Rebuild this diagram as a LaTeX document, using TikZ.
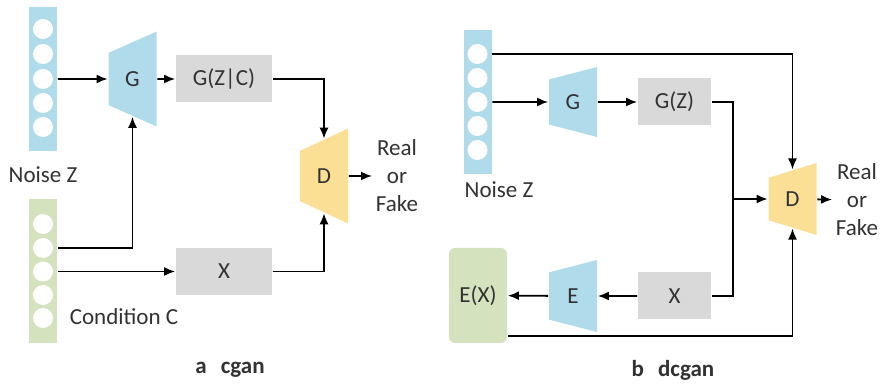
\documentclass[tikz,border=0pt]{standalone}
\usepackage{fontspec}
\setmainfont{Carlito}
\usetikzlibrary{shapes.geometric}
\usetikzlibrary{arrows.meta}
\usetikzlibrary{calc}
\definecolor{lblue}{RGB}{176,219,234}
\definecolor{lgreen}{RGB}{213,226,190}
\definecolor{lyellow}{RGB}{250,223,148}
\definecolor{lgray}{RGB}{217,217,217}
\definecolor{txt}{RGB}{50,50,50}

\begin{document}
\begin{tikzpicture}[x=0.5pt, y=-0.5pt,
  font=\fontsize{11.5}{14}\selectfont, text=txt,
  >={Latex[length=5.5pt,width=4.5pt]}, line width=0.9pt,
  col/.style={rectangle, inner sep=0pt, minimum width=14pt, minimum height=72pt},
  unit/.style={circle, fill=white, inner sep=0pt, minimum size=10pt},
  box/.style={rectangle, fill=lgray, inner sep=0pt, minimum height=23.5pt},
  trap/.style={trapezium, trapezium stretches=true, shape border rotate=90,
    inner sep=0pt, minimum height=24pt},
]
\useasboundingbox (0,0) rectangle (885,384);

%---------------------------------------
% a: cgan
%---------------------------------------
\node[col, fill=lblue] (zL) at (43,79) {};
\foreach \y [count=\i] in {29,54,79,103,127}
  \node[unit] (zL\i) at (43,\y) {};
\node (nzL) at (43,175) {Noise Z};

\node[col, fill=lgreen] (cL) at (43,271.5) {};
\foreach \y [count=\i] in {224,248,271.5,295,318}
  \node[unit] (cL\i) at (43,\y) {};
\node (ccL) at (124,317) {Condition C};

\node[trap, fill=lblue, trapezium left angle=67, trapezium right angle=67,
  minimum width=47.5pt] (GL) at (132.5,79) {G};
\node[box, minimum width=48pt] (GZC) at (224,79) {G(Z|C)};
\node[box, minimum width=48pt] (XL) at (224,271.5) {X};
\node[trap, fill=lyellow, trapezium left angle=65, trapezium right angle=65,
  minimum width=47.5pt] (DL) at (324,176) {D};
\node[align=center, inner sep=1.5pt] (rfL) at (397,176) {Real\\or\\Fake};

% connectors
\draw[->] (zL.east |- zL3) -- (GL);
\draw[->] (GL) -- (GZC);
\draw[->] (GZC.east) -| (DL);
\draw[->] (cL.east |- cL2) -| (GL);
\draw[->] (cL.east |- cL3) -- (XL);
\draw[->] (XL.east) -| (DL);
\draw[->] (DL) -- (rfL);

\node[font=\fontsize{11.5}{14}\selectfont\bfseries] (capA) at (230,370) {a\hspace{7pt}cgan};

%---------------------------------------
% b: dcgan
%---------------------------------------
\node[col, fill=lblue] (zR) at (477.5,102) {};
\foreach \y [count=\i] in {54,78,102,126,150}
  \node[unit] (zR\i) at (477.5,\y) {};
\node (nzR) at (499,190) {Noise Z};

\node[trap, fill=lblue, trapezium left angle=74, trapezium right angle=74,
  minimum width=35pt] (GR) at (573,102) {G};
\node[box, minimum width=36.5pt] (GZ) at (674.5,102) {G(Z)};
\node[box, minimum width=36.5pt] (XR) at (674.5,296) {X};
\node[trap, fill=lblue, trapezium left angle=71, trapezium right angle=71,
  minimum width=36pt] (ER) at (573,296) {E};
\node[rectangle, rounded corners=3pt, fill=lgreen, inner sep=0pt,
  minimum width=29pt, minimum height=47.5pt] (EX) at (478,295.5) {E(X)};
\node[trap, fill=lyellow, trapezium left angle=70, trapezium right angle=70,
  minimum width=36pt] (DR) at (792.5,199) {D};
\node[align=center, inner sep=1.5pt] (rfR) at (857,200) {Real\\or\\Fake};

\coordinate (jR) at (733,199);

% connectors
\draw[->] (zR.east |- zR1) -| (DR);
\draw[->] (zR.east |- zR3) -- (GR);
\draw[->] (GR) -- (GZ);
\draw (GZ.east) -| (jR);
\draw (XR.east) -| (jR);
\draw[->] (jR) -- (DR);
\draw[->] (XR) -- (ER);
\draw[->] (ER) -- (EX);
\draw[->] ([yshift=4pt]EX.south east) -| (DR);
\draw[->] (DR) -- (rfR);

\node[font=\fontsize{11.5}{14}\selectfont\bfseries] (capB) at (673,370) {b\hspace{7pt}dcgan};

\end{tikzpicture}
\end{document}
